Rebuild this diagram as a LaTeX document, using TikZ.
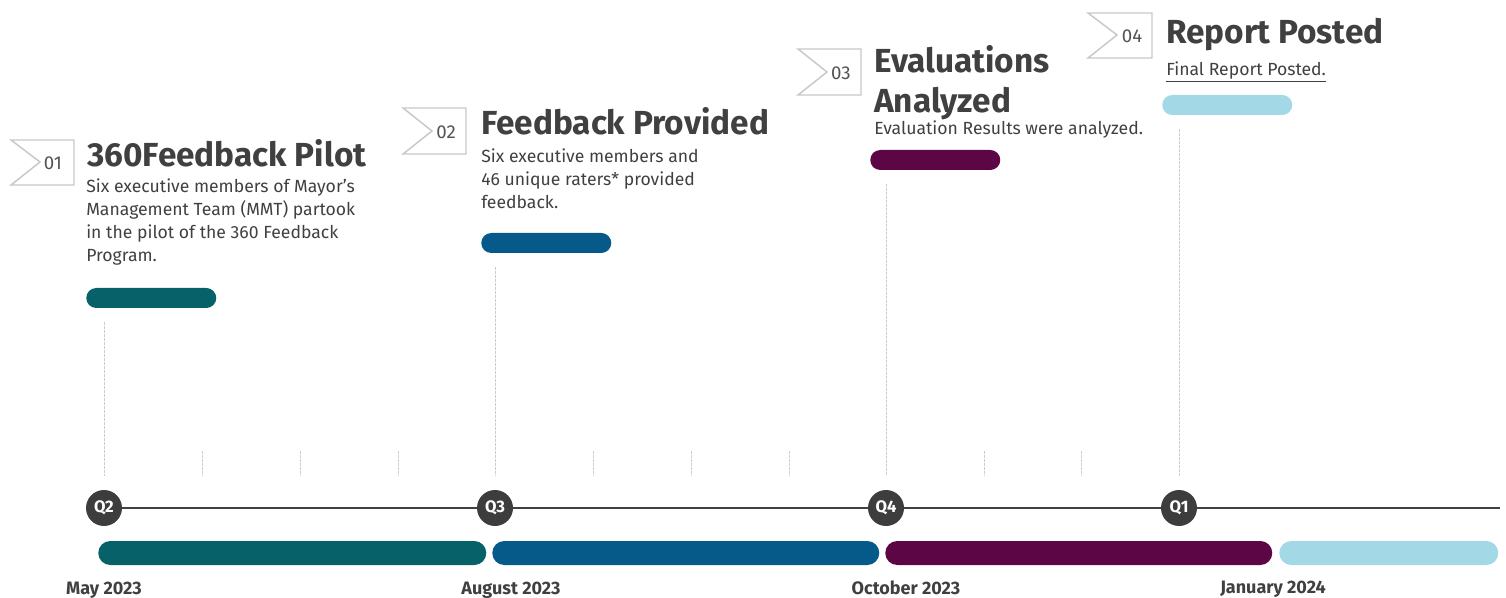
\documentclass[tikz,border=0pt]{standalone}
\usepackage{fontspec}
\setmainfont{Fira Sans}
\usepackage{tikz}
\usetikzlibrary{positioning}
\definecolor{tlteal}{RGB}{6,97,105}
\definecolor{tlblue}{RGB}{6,90,138}
\definecolor{tlpurple}{RGB}{92,6,70}
\definecolor{tllight}{RGB}{163,216,231}
\definecolor{tldark}{RGB}{64,64,64}
\definecolor{tlflag}{RGB}{200,200,200}
\definecolor{tlguide}{RGB}{205,205,205}

\begin{document}
\begin{tikzpicture}[
    x=0.75pt, y=-0.75pt,
    font=\fontsize{13.2}{17.25}\selectfont,
    text=tldark,
    flagline/.style={draw=tlflag, line width=1.1pt, fill=white},
    flagnum/.style={font=\fontsize{14}{14}\selectfont, text=tldark!90, inner sep=0pt},
    title/.style={font=\fontsize{25}{30}\selectfont\bfseries, anchor=base west, inner sep=0pt, align=left},
    body/.style={anchor=north west, inner sep=0pt, align=left},
    pill/.style={rectangle, rounded corners=7.5pt, minimum width=97.5pt, minimum height=15pt, inner sep=0pt},
    span/.style={rectangle, rounded corners=9pt, minimum height=18pt, inner sep=0pt},
    quarter/.style={circle, fill=tldark!95!black, text=white, minimum size=27pt, inner sep=0pt,
        font=\fontsize{12.5}{12.5}\selectfont\bfseries},
    guide/.style={draw=tlguide, line width=0.6pt, dash pattern=on 2pt off 1pt},
    axis/.style={draw=tldark, line width=1.6pt},
    date/.style={font=\fontsize{13.5}{14}\selectfont\bfseries, anchor=base, inner sep=0pt}
]
\useasboundingbox (0,0) rectangle (1506,598);

% flags with step numbers
\draw[flagline] (11,140) -- ++(63,0) -- ++(0,45) -- ++(-63,0) -- ++(29,-23) -- cycle;
\node[flagnum] (num1) at (53,163) {01};
\draw[flagline] (403,108) -- ++(63,0) -- ++(0,46) -- ++(-63,0) -- ++(29,-23) -- cycle;
\node[flagnum] (num2) at (446,132) {02};
\draw[flagline] (798,49) -- ++(63,0) -- ++(0,46) -- ++(-63,0) -- ++(29,-23) -- cycle;
\node[flagnum] (num3) at (841,73) {03};
\draw[flagline] (1088,13) -- ++(64,0) -- ++(0,45) -- ++(-64,0) -- ++(29,-23) -- cycle;
\node[flagnum] (num4) at (1132,36) {04};

% step titles and descriptions
\node[title] (title1) at (87,167) {360Feedback Pilot};
\node[body]  (text1)  at (86,179) {Six executive members of Mayor’s\\Management Team (MMT) partook\\in the pilot of the 360 Feedback\\Program.};

\node[title] (title2) at (481,135) {Feedback Provided};
\node[body]  (text2)  at (481,149) {Six executive members and\\46 unique raters* provided\\feedback.};

% base of a two-line title sits on its last line
\node[title] (title3) at (874,113) {Evaluations\\Analyzed};
\node[body]  (text3)  at (874,121) {Evaluation Results were analyzed.};

\node[title] (title4) at (1166,44) {Report Posted};
\node[anchor=base west, inner sep=0pt] (text4) at (1166,76) {\underline{Final Report Posted.}};

% short bars under each step
\node[pill, fill=tlteal,   anchor=west] (bar1) at (86,298)  {};
\node[pill, fill=tlblue,   anchor=west] (bar2) at (481,243) {};
\node[pill, fill=tlpurple, anchor=west] (bar3) at (870,160) {};
\node[pill, fill=tllight,  anchor=west] (bar4) at (1162,105) {};

% timeline axis and quarter markers
\coordinate (axisend) at (1500,508);
\node[quarter] (q2) at (104,508)  {Q2};
\node[quarter] (q3) at (495,508)  {Q3};
\node[quarter] (q4) at (886,508)  {Q4};
\node[quarter] (q1) at (1179,508) {Q1};
\draw[axis] (q2) -- (q3);
\draw[axis] (q3) -- (q4);
\draw[axis] (q4) -- (q1);
\draw[axis] (q1) -- (axisend);

% guides from bars down to the axis
\draw[guide] (bar1.south west -| q2) ++(0,14) -- (104,476);
\draw[guide] (bar2.south west -| q3) ++(0,14) -- (495,476);
\draw[guide] (bar3.south west -| q4) ++(0,14) -- (886,476);
\draw[guide] (bar4.south west -| q1) ++(0,14) -- (1179,476);
\foreach \tx in {202,300,398,593,691,789,984,1081}
    \draw[guide] (\tx,451) -- (\tx,476);

% quarter spans
\node[span, fill=tlteal,   minimum width=291pt,   anchor=west] (span2) at (98,553)   {};
\node[span, fill=tlblue,   minimum width=290.25pt, anchor=west] (span3) at (492,553)  {};
\node[span, fill=tlpurple, minimum width=290.25pt, anchor=west] (span4) at (885,553)  {};
\node[span, fill=tllight,  minimum width=164.25pt, anchor=west] (span1) at (1279,553) {};

% dates
\node[date] (may)  at (104,594)  {May 2023};
\node[date] (aug)  at (511,594)  {August 2023};
\node[date] (oct)  at (906,594)  {October 2023};
\node[date] (jan)  at (1273,593) {January 2024};
\end{tikzpicture}
\end{document}
